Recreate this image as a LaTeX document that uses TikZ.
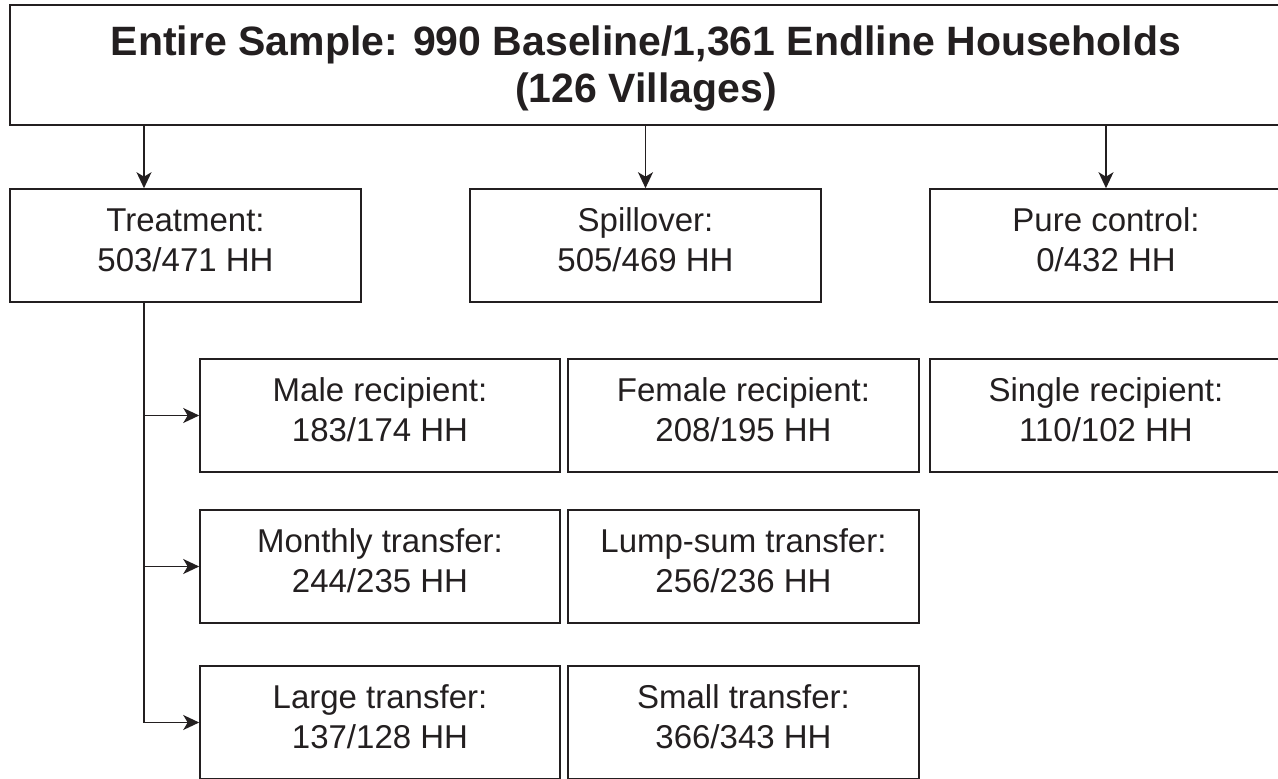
\documentclass[tikz,border=0pt]{standalone}
\usepackage{fontspec}
\setmainfont{Liberation Sans}
\usetikzlibrary{arrows.meta}
\definecolor{ink}{HTML}{231F20}

\begin{document}
\begin{tikzpicture}[x=1pt, y=-1pt, line width=1.6pt, draw=ink, text=ink,
    box/.style={draw, rectangle, minimum width=351pt, minimum height=113pt, inner sep=0pt,
                align=center, text height=64pt, text depth=13pt,
                font=\fontsize{33}{40}\selectfont},
    wide/.style={box, minimum width=360pt},
    headbox/.style={box, minimum width=1272pt, minimum height=120pt,
                    text height=84pt, text depth=10pt,
                    font=\fontsize{41}{47}\selectfont\bfseries},
    arr/.style={-{Stealth[length=16pt, width=15pt, inset=4.5pt]}}]
  \useasboundingbox (0 , 0) rectangle (1278 , 779);

  \node [headbox] (entire) at (646 , 65) {Entire Sample: 990 Baseline/1,361 Endline Households\\(126 Villages)};

  \node [box] (treat) at (185.5 , 245.5) {Treatment:\\503/471 HH};
  \node [box] (spill) at (645.5 , 245.5) {Spillover:\\505/469 HH};
  \node [box, minimum width=352pt] (pure) at (1106 , 245.5) {Pure control:\\0/432 HH};

  \node [wide] (male) at (380 , 415.5) {Male recipient:\\183/174 HH};
  \node [box] (female) at (743.5 , 415.5) {Female recipient:\\208/195 HH};
  \node [box, minimum width=352pt] (single) at (1106 , 415.5) {Single recipient:\\110/102 HH};

  \node [wide] (monthly) at (380 , 566.5) {Monthly transfer:\\244/235 HH};
  \node [box] (lump) at (743.5 , 566.5) {Lump-sum transfer:\\256/236 HH};

  \node [wide] (large) at (380 , 722.5) {Large transfer:\\137/128 HH};
  \node [box] (small) at (743.5 , 722.5) {Small transfer:\\366/343 HH};

  \coordinate (tx) at (144 , 0);
  \draw [arr] (entire.south -| tx) -- (treat.north -| tx);
  \draw [arr] (entire.south -| spill.north) -- (spill.north);
  \draw [arr] (entire.south -| pure.north) -- (pure.north);

  \draw (treat.south -| tx) -- (tx |- large.west);
  \foreach \n in {male, monthly, large}
    \draw [arr] (tx |- \n.west) -- (\n.west);
\end{tikzpicture}
\end{document}
